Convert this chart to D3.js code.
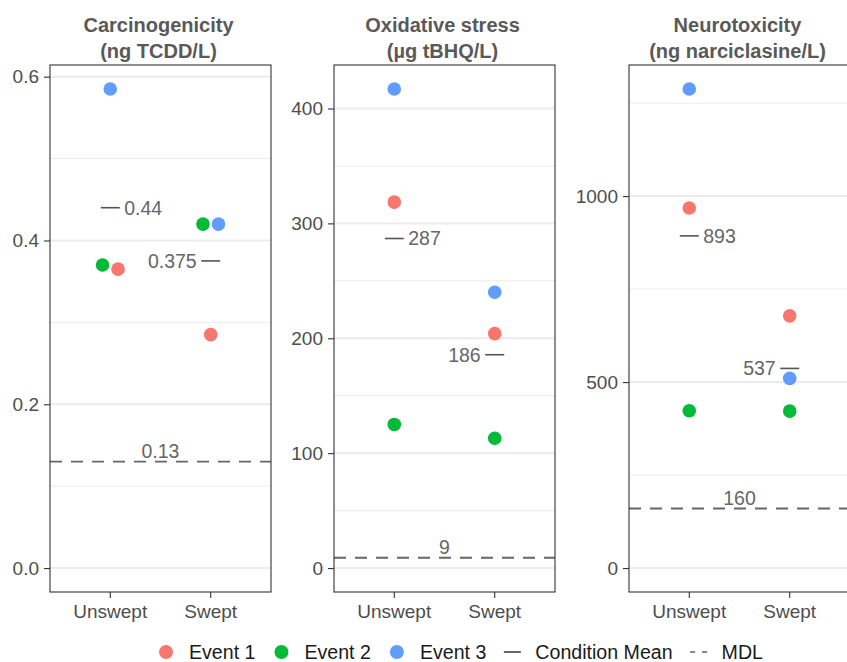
<!DOCTYPE html>
<html>
<head>
<meta charset="utf-8">
<script src="https://cdn.jsdelivr.net/npm/d3@7"></script>
<style>
  body { margin: 0; background: #fff; }
  svg { display: block; font-family: "Liberation Sans", Arial, Helvetica, sans-serif; }
</style>
</head>
<body>
<script>
// Data
const conditions = ["Unswept", "Swept"];
const events = ["Event 1", "Event 2", "Event 3"];
const eventColors = ["#F8766D", "#00BA38", "#619CFF"];

const panelTitles = [
  ["Carcinogenicity", "(ng TCDD/L)"],
  ["Oxidative stress", "(\u00b5g tBHQ/L)"],
  ["Neurotoxicity", "(ng narciclasine/L)"],
];

// values per event (Event 1, 2, 3)
const carcUnswept = [0.365, 0.37, 0.585];
const carcSwept = [0.285, 0.42, 0.42];
const oxUnswept = [318.5, 125, 417];
const oxSwept = [204, 113, 240];
const neuroUnswept = [968, 423, 1288];
const neuroSwept = [678, 422, 510];

const mdlValues = [0.13, 9, 160];

const carcTicks = [0, 0.2, 0.4, 0.6];
const oxTicks = [0, 100, 200, 300, 400];
const neuroTicks = [0, 500, 1000];
const tickFormats = [".1f", "d", "d"];

const panelValues = [
  [carcUnswept, carcSwept],
  [oxUnswept, oxSwept],
  [neuroUnswept, neuroSwept],
];
const panelTicks = [carcTicks, oxTicks, neuroTicks];

// layout
const W = 847, H = 662;
const panelX = [50, 334, 629];
const panelW = 221;
const plotTop = 65, plotBottom = 592;
const r = 6.8;
const font = 19;
const labelFmt = d3.format(".3~r");

const svg = d3.select("body").append("svg")
  .attr("width", W)
  .attr("height", H);

panelValues.forEach((vals, p) => {
  const x0 = panelX[p];
  const g = svg.append("g").attr("transform", `translate(${x0},0)`);

  // ggplot discrete expansion: 0.6 units each side
  const xPos = d3.scaleLinear().domain([0.4, 2.6]).range([0, panelW]);
  const xc = (c) => xPos(conditions.indexOf(c) + 1);

  const maxV = d3.max(vals.flat());
  const pad = maxV * 0.05;
  const y = d3.scaleLinear().domain([-pad, maxV + pad]).range([plotBottom, plotTop]);

  const ticks = panelTicks[p];
  const minor = d3.pairs(ticks).map(([a, b]) => (a + b) / 2);
  const step = ticks[1] - ticks[0];
  const lastMinor = ticks[ticks.length - 1] + step / 2;
  if (y(lastMinor) > plotTop) minor.push(lastMinor);

  // grid
  g.selectAll(".minor").data(minor).join("line")
    .attr("x1", 0).attr("x2", panelW)
    .attr("y1", (d) => y(d)).attr("y2", (d) => y(d))
    .attr("stroke", "#EBEBEB").attr("stroke-width", 1);
  g.selectAll(".major").data(ticks).join("line")
    .attr("x1", 0).attr("x2", panelW)
    .attr("y1", (d) => y(d)).attr("y2", (d) => y(d))
    .attr("stroke", "#EBEBEB").attr("stroke-width", 2);

  // MDL line
  const mdl = mdlValues[p];
  g.append("line")
    .attr("x1", 0).attr("x2", panelW)
    .attr("y1", y(mdl)).attr("y2", y(mdl))
    .attr("stroke", "#666").attr("stroke-width", 1.9)
    .attr("stroke-dasharray", "12,9");
  g.append("text")
    .attr("x", panelW / 2).attr("y", y(mdl) - 4)
    .attr("text-anchor", "middle")
    .attr("font-size", 19.5).attr("fill", "#666")
    .text(labelFmt(mdl));

  // points with simple dodge for overlapping values
  conditions.forEach((c, ci) => {
    const pts = vals[ci].map((v, e) => ({ v, e }))
      .sort((a, b) => b.v - a.v || a.e - b.e);
    const clusters = [];
    pts.forEach((pt) => {
      const last = clusters[clusters.length - 1];
      if (last && Math.abs(y(last[last.length - 1].v) - y(pt.v)) < 2 * r + 1) last.push(pt);
      else clusters.push([pt]);
    });
    clusters.forEach((cl) => {
      cl.forEach((pt, i) => { pt.dx = (i - (cl.length - 1) / 2) * 15.5; });
    });

    g.selectAll(`.pt${ci}`).data(pts).join("circle")
      .attr("cx", (d) => xc(c) + d.dx)
      .attr("cy", (d) => y(d.v))
      .attr("r", r)
      .attr("fill", (d) => eventColors[d.e]);

    // condition mean
    const m = d3.mean(vals[ci]);
    g.append("line")
      .attr("x1", xc(c) - 9.5).attr("x2", xc(c) + 9.5)
      .attr("y1", y(m)).attr("y2", y(m))
      .attr("stroke", "#555").attr("stroke-width", 1.6);
    g.append("text")
      .attr("x", ci === 0 ? xc(c) + 14 : xc(c) - 14)
      .attr("y", y(m))
      .attr("dy", "0.35em")
      .attr("text-anchor", ci === 0 ? "start" : "end")
      .attr("font-size", 19.5).attr("fill", "#666")
      .text(labelFmt(m));
  });

  // panel border
  g.append("rect")
    .attr("x", 0).attr("y", plotTop)
    .attr("width", panelW).attr("height", plotBottom - plotTop)
    .attr("fill", "none").attr("stroke", "#333").attr("stroke-width", 1.1);

  // y axis
  const yAxis = d3.axisLeft(y).tickValues(ticks).tickSize(6).tickPadding(5)
    .tickFormat(d3.format(tickFormats[p]));
  const ya = g.append("g").call(yAxis);
  ya.select(".domain").remove();
  ya.selectAll("line").attr("stroke", "#333").attr("stroke-width", 1.1);
  ya.selectAll("text").attr("font-size", font).attr("fill", "#4D4D4D");
  ya.attr("font-family", null).attr("font-size", null);

  // x axis
  const xa = g.append("g").attr("transform", `translate(0,${plotBottom})`);
  conditions.forEach((c) => {
    xa.append("line").attr("x1", xc(c)).attr("x2", xc(c))
      .attr("y1", 0).attr("y2", 6)
      .attr("stroke", "#333").attr("stroke-width", 1.1);
    xa.append("text").attr("x", xc(c)).attr("y", 26)
      .attr("text-anchor", "middle")
      .attr("font-size", font).attr("fill", "#4D4D4D")
      .text(c);
  });

  // strip title
  panelTitles[p].forEach((t, i) => {
    g.append("text")
      .attr("x", panelW / 2 - 2).attr("y", 32 + i * 26)
      .attr("text-anchor", "middle")
      .attr("font-size", 20).attr("font-weight", "bold")
      .attr("fill", "#595959")
      .text(t);
  });
});

// legend
const legendItems = events.map((e, i) => ({ label: e, type: "point", color: eventColors[i] }))
  .concat([{ label: "Condition Mean", type: "line" }, { label: "MDL", type: "dash" }]);
const ly = 652;
let lx = 166;
const legend = svg.append("g");
legendItems.forEach((it) => {
  if (it.type === "point") {
    legend.append("circle").attr("cx", lx).attr("cy", ly).attr("r", 7).attr("fill", it.color);
  } else {
    legend.append("line")
      .attr("x1", lx - 8.5).attr("x2", lx + 8.5)
      .attr("y1", ly).attr("y2", ly)
      .attr("stroke", it.type === "line" ? "#555" : "#888")
      .attr("stroke-width", 1.8)
      .attr("stroke-dasharray", it.type === "dash" ? "5,7" : null);
  }
  const t = legend.append("text")
    .attr("x", lx + 23).attr("y", ly).attr("dy", "0.35em")
    .attr("font-size", 19.6).attr("fill", "#1a1a1a")
    .text(it.label);
  lx = lx + 23 + t.node().getComputedTextLength() + 26;
});
</script>
</body>
</html>
